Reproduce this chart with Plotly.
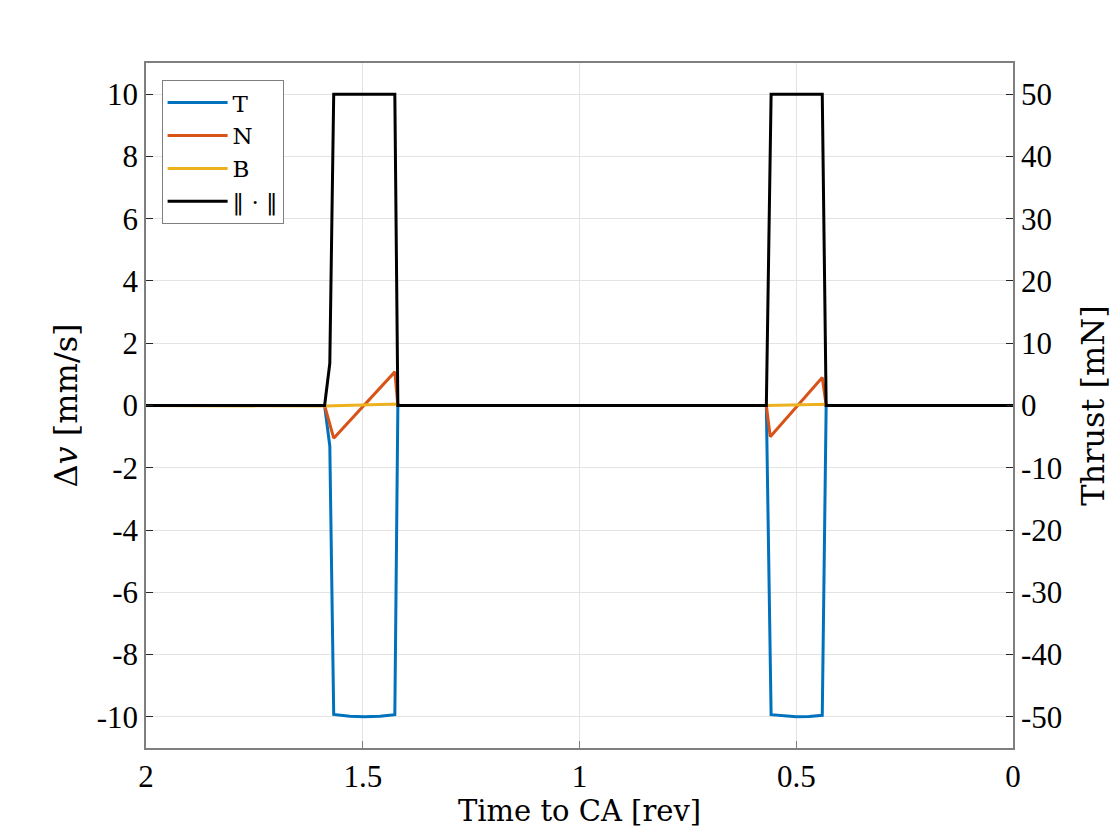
import plotly.graph_objects as go

# time to closest approach [rev]
t_T = [2.0, 1.588, 1.576, 1.567, 1.53, 1.497, 1.46, 1.426, 1.419,
       0.569, 0.558, 0.52, 0.50, 0.47, 0.440, 0.431, 0.0]
dv_T = [0, 0, -1.3, -9.92, -9.98, -10.0, -9.98, -9.93, 0,
        0, -9.93, -9.99, -10.0, -9.99, -9.95, 0, 0]

t_N = [2.0, 1.588, 1.567, 1.426, 1.419, 0.569, 0.560, 0.440, 0.431, 0.0]
dv_N = [0, 0, -1.05, 1.08, 0, 0, -1.0, 0.9, 0, 0]

t_B = [2.0, 1.588, 1.419, 1.418, 0.569, 0.431, 0.430, 0.0]
dv_B = [0, -0.02, 0.05, 0, 0, 0.04, 0, 0]

t_norm = [2.0, 1.588, 1.576, 1.567, 1.426, 1.419, 0.569, 0.558, 0.440, 0.431, 0.0]
thrust = [0, 0, 6.75, 50, 50, 0, 0, 50, 50, 0, 0]

left_ticks = [-10, -8, -6, -4, -2, 0, 2, 4, 6, 8, 10]
right_ticks = [-50, -40, -30, -20, -10, 0, 10, 20, 30, 40, 50]
x_ticks = [2, 1.5, 1, 0.5, 0]
x_labels = ["2", "1.5", "1", "0.5", "0"]

TICK_FAMILY = "Liberation Serif"
TEXT_FAMILY = "DejaVu Serif"
AXIS = "#7f7f7f"
GRID = "#e3e3e3"
TICKFONT = dict(family=TICK_FAMILY, size=31, color="black")
XTITLEFONT = dict(family=TEXT_FAMILY, size=29, color="black")
YTITLEFONT = dict(family=TEXT_FAMILY, size=32, color="black")

fig = go.Figure()
fig.add_trace(go.Scatter(x=t_T, y=dv_T, mode="lines", name="T",
                         line=dict(color="#0072BD", width=3)))
fig.add_trace(go.Scatter(x=t_N, y=dv_N, mode="lines", name="N",
                         line=dict(color="#D95319", width=3)))
fig.add_trace(go.Scatter(x=t_B, y=dv_B, mode="lines", name="B",
                         line=dict(color="#EDB120", width=3)))
fig.add_trace(go.Scatter(x=t_norm, y=thrust, mode="lines", name="‖ · ‖",
                         yaxis="y2", line=dict(color="black", width=3)))

fig.update_layout(
    width=1120, height=840,
    margin=dict(l=138, r=115, t=55, b=100),
    paper_bgcolor="white", plot_bgcolor="white",
    font=dict(family=TICK_FAMILY, size=24, color="black"),
    showlegend=True,
    legend=dict(x=0.018, y=0.975, xanchor="left", yanchor="top",
                bgcolor="white", bordercolor=AXIS, borderwidth=1,
                font=dict(family=TEXT_FAMILY, size=23, color="black"), tracegroupgap=0,
                itemwidth=60),
    xaxis=dict(range=[2, 0], tickvals=x_ticks, ticktext=x_labels, tickfont=TICKFONT,
               showgrid=True, gridcolor=GRID, zeroline=False,
               showline=True, linecolor=AXIS, linewidth=1.5, mirror=True,
               ticks="inside", ticklen=7, tickcolor=AXIS,
               title=dict(text="Time to CA [rev]", font=XTITLEFONT, standoff=2)),
    yaxis=dict(range=[-11, 11], tickvals=left_ticks, ticktext=[str(v) for v in left_ticks],
               tickfont=TICKFONT,
               showgrid=True, gridcolor=GRID, zeroline=False,
               showline=True, linecolor=AXIS, linewidth=1.5, mirror=True,
               ticks="inside", ticklen=7, tickcolor="#262626",
               title=dict(text="Δ<i>v</i> [mm/s]", font=YTITLEFONT, standoff=10)),
    yaxis2=dict(range=[-55, 55], tickvals=right_ticks, ticktext=[str(v) for v in right_ticks],
                tickfont=TICKFONT, overlaying="y", side="right",
                showgrid=False, zeroline=False,
                showline=True, linecolor=AXIS, linewidth=1.5,
                ticks="inside", ticklen=7, tickcolor="#262626",
                title=dict(text="Thrust [mN]", font=YTITLEFONT, standoff=20)),
)

fig.write_html("out.html")
